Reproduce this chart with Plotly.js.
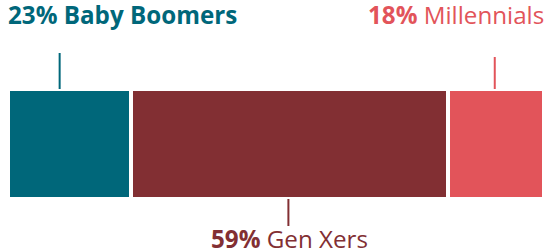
<!DOCTYPE html>
<html>
<head>
<meta charset="utf-8">
<script src="https://cdn.plot.ly/plotly-3.0.1.min.js"></script>
<style>html,body{margin:0;padding:0;background:#fff;}#chart{width:544px;height:250px;}</style>
</head>
<body>
<div id="chart"></div>
<script>
const generations = ["Baby Boomers", "Gen Xers", "Millennials"];
const shares = [23, 59, 18];
const colors = ["#00677A", "#822F33", "#E2545A"];

const FONT = "Open Sans, sans-serif";
const traces = generations.map((g, i) => ({
  type: "bar",
  orientation: "h",
  y: ["all"],
  x: [shares[i]],
  name: g,
  width: 1,
  marker: {color: colors[i], line: {color: "#ffffff", width: 4}},
  hoverinfo: "skip"
}));

const starts = [];
let acc = 0;
shares.forEach(v => { starts.push(acc); acc += v; });
const centers = shares.map((v, i) => starts[i] + v / 2);

const leaderOffset = [-10, -1, -1];
const shapes = [
  {type: "line", xref: "x", yref: "paper", xsizemode: "pixel", ysizemode: "pixel",
   xanchor: centers[0], yanchor: 1, x0: leaderOffset[0], x1: leaderOffset[0], y0: 0, y1: 36,
   line: {color: colors[0], width: 2}},
  {type: "line", xref: "x", yref: "paper", xsizemode: "pixel", ysizemode: "pixel",
   xanchor: centers[1], yanchor: 0, x0: leaderOffset[1], x1: leaderOffset[1], y0: 0, y1: -27,
   line: {color: colors[1], width: 2}},
  {type: "line", xref: "x", yref: "paper", xsizemode: "pixel", ysizemode: "pixel",
   xanchor: centers[2], yanchor: 1, x0: leaderOffset[2], x1: leaderOffset[2], y0: 0, y1: 32,
   line: {color: colors[2], width: 2}}
];

const annotations = [
  {xref: "x", yref: "paper", x: starts[0], y: 1, xanchor: "left", yanchor: "bottom", yshift: 57, xshift: -1,
   borderpad: 0,
   text: "<b>" + shares[0] + "% " + generations[0] + "</b>", showarrow: false,
   font: {family: FONT, size: 24.2, color: colors[0]}},
  {xref: "x", yref: "paper", x: centers[1], y: 0, xanchor: "center", yanchor: "top", yshift: -22,
   borderpad: 0,
   text: "<b>" + shares[1] + "%</b> " + generations[1], showarrow: false,
   font: {family: FONT, size: 24.2, color: colors[1]}},
  {xref: "x", yref: "paper", x: acc, y: 1, xanchor: "right", yanchor: "bottom", yshift: 57, xshift: 1,
   borderpad: 0,
   text: "<b>" + shares[2] + "%</b> " + generations[2], showarrow: false,
   font: {family: FONT, size: 24.2, color: colors[2]}}
];

const layout = {
  width: 544, height: 250,
  margin: {l: 8, r: 0, t: 89, b: 51, pad: 0},
  barmode: "stack",
  showlegend: false,
  paper_bgcolor: "#ffffff", plot_bgcolor: "#ffffff",
  xaxis: {range: [0, 100], visible: false, fixedrange: true},
  yaxis: {range: [-0.5, 0.5], visible: false, fixedrange: true},
  shapes: shapes,
  annotations: annotations
};

Plotly.newPlot("chart", traces, layout, {displayModeBar: false, staticPlot: true});
</script>
</body>
</html>
